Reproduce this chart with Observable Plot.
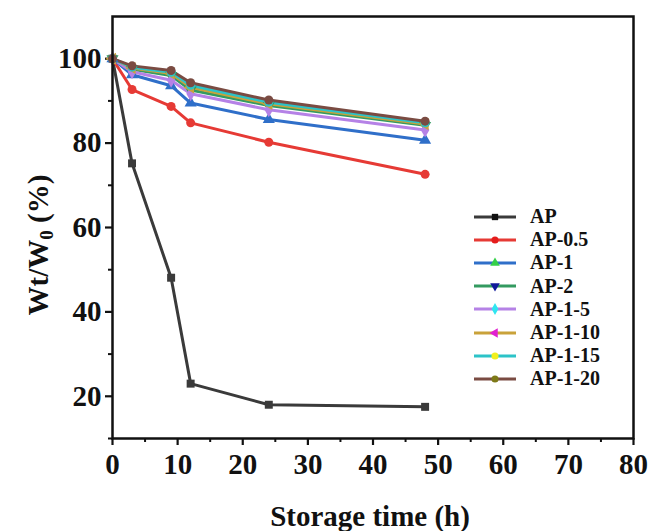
<!DOCTYPE html>
<html>
<head>
<meta charset="utf-8">
<script src="https://cdn.jsdelivr.net/npm/d3@7"></script>
<script src="https://cdn.jsdelivr.net/npm/@observablehq/plot@0.6"></script>
<style>
  html, body { margin: 0; padding: 0; background: #fff; }
  #wrap { position: relative; width: 649px; height: 531px; font-family: "Liberation Serif", "Times New Roman", serif; }
  #legend { position: absolute; left: 473px; top: 205px; font-weight: bold; font-size: 20px; color: #111; }
  .row { display: flex; align-items: center; height: 23.2px; }
  .row svg { margin-right: 13px; }
</style>
</head>
<body>
<div id="wrap"><div id="legend"></div></div>
<script>
const times = [0, 3, 9, 12, 24, 48];
const seriesNames = ["AP", "AP-0.5", "AP-1", "AP-2", "AP-1-5", "AP-1-10", "AP-1-15", "AP-1-20"];
const AP      = [100, 75.2, 48.1, 23.0, 18.0, 17.5];
const AP_0_5  = [100, 92.7, 88.7, 84.8, 80.2, 72.6];
const AP_1    = [100, 96.2, 93.6, 89.5, 85.6, 80.7];
const AP_2    = [100, 97.5, 96.0, 92.6, 88.9, 84.2];
const AP_1_5  = [100, 96.9, 94.9, 91.7, 87.9, 83.1];
const AP_1_10 = [100, 97.8, 96.5, 93.2, 89.3, 84.5];
const AP_1_15 = [100, 98.0, 96.8, 93.7, 89.7, 84.8];
const AP_1_20 = [100, 98.3, 97.2, 94.3, 90.2, 85.2];
const seriesValues = [AP, AP_0_5, AP_1, AP_2, AP_1_5, AP_1_10, AP_1_15, AP_1_20];
const lineColors = ["#3a3a3a", "#e63a35", "#2f6fc9", "#339a60", "#b582e6", "#c9a23a", "#2cc3c8", "#7a4b42"];
const markerColors = ["#111111", "#e51d1d", "#35d048", "#101a9a", "#30e6f0", "#e020d0", "#f2f020", "#7e7a18"];
const symbols = ["square", "circle", "triangle", "triangle", "diamond", "triangle", "circle", "circle"];
const rotations = [0, 0, 0, 180, 0, -90, 0, 0];
const xTicks = [0, 10, 20, 30, 40, 50, 60, 70, 80];
const yTicks = [20, 40, 60, 80, 100];

const data = [];
seriesNames.forEach((s, i) => times.forEach((t, j) => data.push({series: s, idx: i, t, v: seriesValues[i][j]})));

const font = "Liberation Serif, Times New Roman, serif";
const chart = Plot.plot({
  width: 649, height: 531,
  marginLeft: 112, marginRight: 16, marginTop: 16, marginBottom: 93,
  style: {fontFamily: font, fontWeight: "bold", fontSize: "29px", color: "#111", background: "white"},
  x: {domain: [0, 80]},
  y: {domain: [10, 110]},
  color: {domain: seriesNames, range: lineColors},
  marks: [
    Plot.axisX({ticks: d3.range(5, 80, 10), tickSize: 4, tickFormat: () => "", strokeWidth: 2, label: null}),
    Plot.axisY({ticks: d3.range(10, 110, 20), tickSize: 4, tickFormat: () => "", strokeWidth: 2, label: null}),
    Plot.axisX({ticks: xTicks, tickSize: 7, tickPadding: 8, strokeWidth: 2.2, label: null, fontSize: 29}),
    Plot.axisY({ticks: yTicks, tickSize: 7, tickPadding: 4, strokeWidth: 2.2, label: null, fontSize: 29}),
    Plot.line(data, {x: "t", y: "v", z: "series", stroke: "series", strokeWidth: 3}),
    Plot.dot(data, {x: "t", y: "v", fill: "series", symbol: d => symbols[d.idx], rotate: d => rotations[d.idx], r: 4.5, stroke: "none"}),
    Plot.frame({stroke: "#111", strokeWidth: 2.5})
  ]
});
chart.style.position = "absolute";
chart.style.left = "0px";
chart.style.top = "0px";
document.getElementById("wrap").prepend(chart);

// axis titles
const svg = d3.select(chart);
svg.append("text")
  .attr("x", 370).attr("y", 526)
  .attr("text-anchor", "middle")
  .attr("font-family", font).attr("font-weight", "bold").attr("font-size", 29).attr("fill", "#111")
  .text("Storage time (h)");
const yl = svg.append("text")
  .attr("transform", "translate(48,245) rotate(-90)")
  .attr("text-anchor", "middle")
  .attr("font-family", font).attr("font-weight", "bold").attr("font-size", 29).attr("fill", "#111");
yl.append("tspan").text("Wt/W");
yl.append("tspan").attr("baseline-shift", "-25%").attr("font-size", 19).text("0");
yl.append("tspan").text(" (%)");

// legend
const symMap = {square: d3.symbolSquare, circle: d3.symbolCircle, triangle: d3.symbolTriangle, diamond: d3.symbolDiamond};
const legend = d3.select("#legend");
seriesNames.forEach((s, i) => {
  const row = legend.append("div").attr("class", "row");
  const sw = row.append("svg").attr("width", 44).attr("height", 14);
  sw.append("line").attr("x1", 1).attr("x2", 43).attr("y1", 7).attr("y2", 7).attr("stroke", lineColors[i]).attr("stroke-width", 3);
  sw.append("path").attr("d", d3.symbol(symMap[symbols[i]], 40)())
    .attr("transform", `translate(22,7) rotate(${rotations[i]})`).attr("fill", markerColors[i]);
  row.append("span").text(s);
});
</script>
</body>
</html>
